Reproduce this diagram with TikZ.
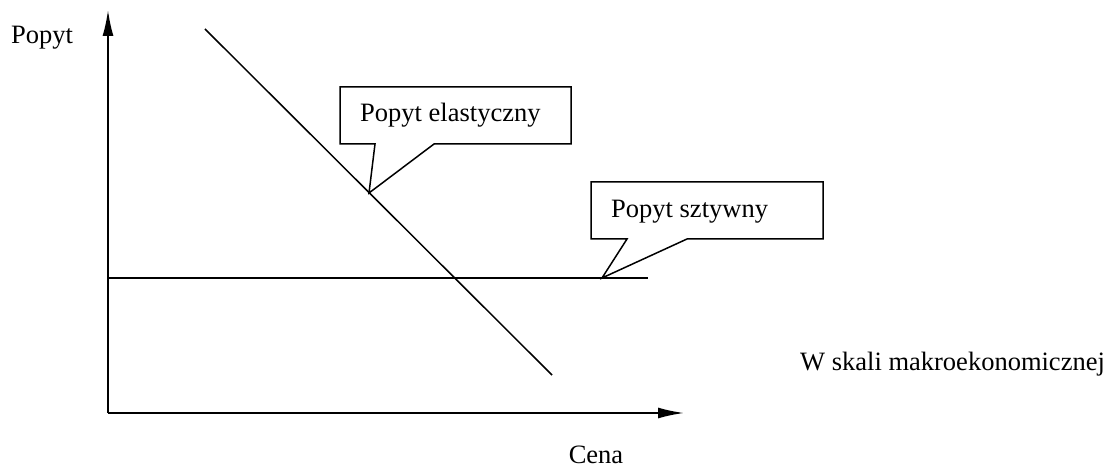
\documentclass[tikz,border=0pt]{standalone}
\usepackage{fontspec}
\setmainfont{Liberation Serif}
\usetikzlibrary{arrows.meta}

\begin{document}
\begin{tikzpicture}[x=1pt,y=-1pt,
    os/.style={line width=1.8pt,-{Latex[length=26pt,width=11pt]}},
    linia/.style={line width=1.5pt},
    dymek/.style={line width=1.5pt,line join=miter},
    tekst/.style={font=\fontsize{26.5}{31}\selectfont,inner sep=0pt}]
  \useasboundingbox (0,0) rectangle (1111,470);
  %osie
    \coordinate (o) at (108,413);
    \coordinate (ytop) at (108,10);
    \coordinate (xend) at (684,413);
    \draw[os](o)--(ytop);
    \draw[os](o)--(xend);
    \node[tekst,anchor=west] (popyt) at (11,38) {Popyt};
    \node[tekst] (cena) at (596,455) {Cena};
    \node[tekst,anchor=west] (skala) at (800,364) {W skali makroekonomicznej};
  %krzywe
    \coordinate (d1) at (205,29);
    \coordinate (d2) at (552,375);
    \coordinate (h1) at (108,278);
    \coordinate (h2) at (648,278);
    \draw[linia](d1)--(d2);
    \draw[linia](h1)--(h2);
  %dymki
    \coordinate (p1) at (369,193);
    \draw[dymek](340,144)--(375,144)--(p1)--(434,144)--(571,144)--(571,87)--(340,87)--cycle;
    \node[tekst,anchor=west] (elast) at (360,115) {Popyt elastyczny};
    \coordinate (p2) at (602,278);
    \draw[dymek](591,239)--(627,239)--(p2)--(687,239)--(823,239)--(823,182)--(591,182)--cycle;
    \node[tekst,anchor=west] (sztyw) at (611,212) {Popyt sztywny};
\end{tikzpicture}
\end{document}
